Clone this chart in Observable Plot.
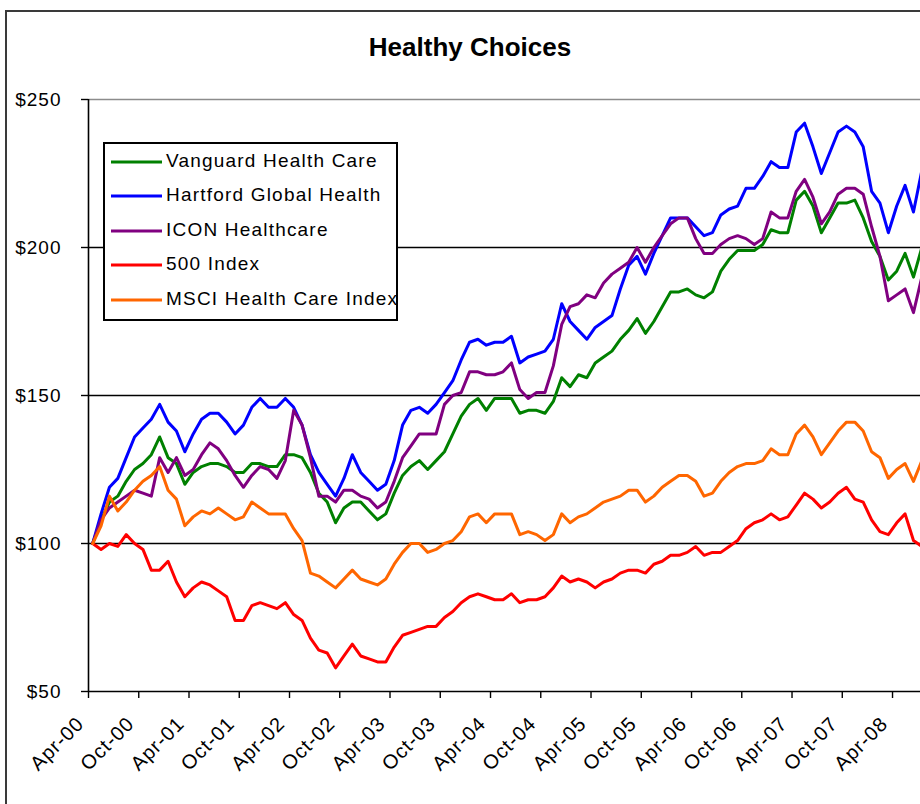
<!DOCTYPE html>
<html><head><meta charset="utf-8">
<script src="https://cdn.jsdelivr.net/npm/d3@7"></script>
<script src="https://cdn.jsdelivr.net/npm/@observablehq/plot@0.6"></script>
<style>
html,body{margin:0;padding:0;background:#fff;overflow:hidden;}
#wrap{position:relative;width:920px;height:804px;overflow:hidden;font-family:"Liberation Sans",Arial,sans-serif;color:#000;}
#border{position:absolute;left:5px;top:10px;width:1000px;height:1000px;border:2px solid #3a3a3a;box-sizing:border-box;}
#title{position:absolute;left:0;top:32px;width:940px;text-align:center;font-weight:bold;font-size:26px;line-height:30px;}
#chart{position:absolute;left:0;top:0;}
#legend{position:absolute;left:103px;top:142px;width:295px;height:179px;border:2px solid #000;background:#fff;box-sizing:border-box;}
.row{position:absolute;left:0;height:34px;width:100%;}
.row svg{position:absolute;left:6px;top:15px;}
.row span{position:absolute;left:61px;top:5px;font-size:19px;letter-spacing:1.2px;line-height:24px;white-space:nowrap;}
#chart text{letter-spacing:1px;}
</style></head>
<body>
<div id="wrap">
  <div id="border"></div>
  <div id="chart"></div>
  <div id="title">Healthy Choices</div>
  <div id="legend"></div>
</div>
<script>
// Monthly index values, first point = Apr-00 = 100
const seriesNames = ["Vanguard Health Care","Hartford Global Health","ICON Healthcare","500 Index","MSCI Health Care Index"];
const seriesColors = ["#008000","#0000ff","#800080","#ff0000","#ff6600"];
const tickLabels = ["Apr-00","Oct-00","Apr-01","Oct-01","Apr-02","Oct-02","Apr-03","Oct-03","Apr-04","Oct-04","Apr-05","Oct-05","Apr-06","Oct-06","Apr-07","Oct-07","Apr-08"];
const yTicks = [50,100,150,200,250];

const vanguard = [100,108,114,116,121,125,127,130,136,129,127,120,124,126,127,127,126,124,124,127,
127,126,126,130,130,129,124,117,114,107,112,114,114,111,108,110,117,123,126,128,
125,128,131,137,143,147,149,145,149,149,149,144,145,145,144,148,156,153,157,156,
161,163,165,169,172,176,171,175,180,185,185,186,184,183,185,192,196,199,199,199,
201,206,205,205,216,219,214,205,210,215,215,216,210,202,197,189,192,198,190,200];

const hartford = [100,110,119,122,129,136,139,142,147,141,138,131,137,142,144,144,141,137,140,146,
149,146,146,149,146,140,130,124,120,116,122,130,124,121,118,120,128,140,145,146,
144,147,151,155,162,168,169,167,168,168,170,161,163,164,165,169,181,175,172,169,
173,175,177,186,194,197,191,198,204,210,210,210,207,204,205,211,213,214,220,220,
224,229,227,227,239,242,234,225,232,239,241,239,234,219,215,205,214,221,212,226];

const icon = [100,108,112,114,116,118,117,116,129,124,129,123,125,130,134,132,128,123,119,123,
126,125,122,128,145,140,129,116,116,114,118,118,116,115,112,114,121,129,133,137,
137,137,147,150,151,158,158,157,157,158,161,152,149,151,151,160,174,180,181,184,
183,188,191,193,195,200,195,200,204,208,210,210,203,198,198,201,203,204,203,201,
203,212,210,210,219,223,217,208,212,218,220,220,218,207,197,182,184,186,178,190];

const sp500 = [100,98,100,99,103,100,98,91,91,94,87,82,85,87,86,84,82,74,74,79,
80,79,78,80,76,74,68,64,63,58,62,66,62,61,60,60,65,69,70,71,
72,72,75,77,80,82,83,82,81,81,83,80,81,81,82,85,89,87,88,87,
85,87,88,90,91,91,90,93,94,96,96,97,99,96,97,97,99,101,105,107,
108,110,108,109,113,117,115,112,114,117,119,115,114,108,104,103,107,110,101,99];

const msci = [100,106,116,111,114,118,121,123,126,118,115,106,109,111,110,112,110,108,109,114,
112,110,110,110,105,101,90,89,87,85,88,91,88,87,86,88,93,97,100,100,
97,98,100,101,104,109,110,107,110,110,110,103,104,103,101,103,110,107,109,110,
112,114,115,116,118,118,114,116,119,121,123,123,121,116,117,121,124,126,127,127,
128,132,130,130,137,140,136,130,134,138,141,141,138,131,129,122,125,127,121,128];

const allSeries = [vanguard, hartford, icon, sp500, msci];
const data = allSeries.flatMap((vals, s) => vals.map((v, i) => ({name: seriesNames[s], k: i, v})));
const tickPos = tickLabels.map((_, i) => i * 6 - 0.5);
const fmtX = (d) => tickLabels[Math.round((d + 0.5) / 6)];

const font = '"Liberation Sans", Arial, sans-serif';
const chart = Plot.plot({
  width: 920,
  height: 804,
  marginLeft: 88,
  marginRight: 0,
  marginTop: 99,
  marginBottom: 113,
  style: {fontFamily: font, fontSize: "19px", color: "#000", background: "transparent", overflow: "hidden"},
  x: {domain: [-0.5, 98.84], label: null},
  y: {domain: [50, 250], label: null},
  color: {domain: seriesNames, range: seriesColors},
  marks: [
    Plot.ruleY([100, 150, 200], {stroke: "#000", strokeWidth: 1.4}),
    Plot.ruleY([250], {stroke: "#8c8c8c", strokeWidth: 1.6}),
    Plot.lineY(data, {x: "k", y: "v", z: "name", stroke: "name", strokeWidth: 3, clip: true}),
    Plot.ruleY([50], {stroke: "#000", strokeWidth: 1.6}),
    Plot.ruleX([-0.5], {stroke: "#000", strokeWidth: 1.6}),
    Plot.axisY({ticks: yTicks, tickFormat: d => "$" + d, tickSize: 7, tickPadding: 20, fontSize: 19, stroke: "#000", strokeWidth: 1.4}),
    Plot.axisX({ticks: tickPos, tickFormat: () => "", tickSize: 7, stroke: "#000", strokeWidth: 1.4}),
    Plot.axisX({ticks: tickPos, tickFormat: fmtX, tickRotate: -45, tickSize: 0, tickPadding: 29, dx: -8, fontSize: 20})
  ]
});
document.getElementById("chart").appendChild(chart);

// Legend
const leg = document.getElementById("legend");
const rowTops = [0, 34, 69, 103, 138];
seriesNames.forEach((n, i) => {
  const r = document.createElement("div");
  r.className = "row";
  r.style.top = rowTops[i] + "px";
  r.innerHTML = `<svg width="52" height="6"><line x1="0" y1="3" x2="51" y2="3" stroke="${seriesColors[i]}" stroke-width="3"/></svg><span>${n}</span>`;
  leg.appendChild(r);
});
</script>
</body></html>
